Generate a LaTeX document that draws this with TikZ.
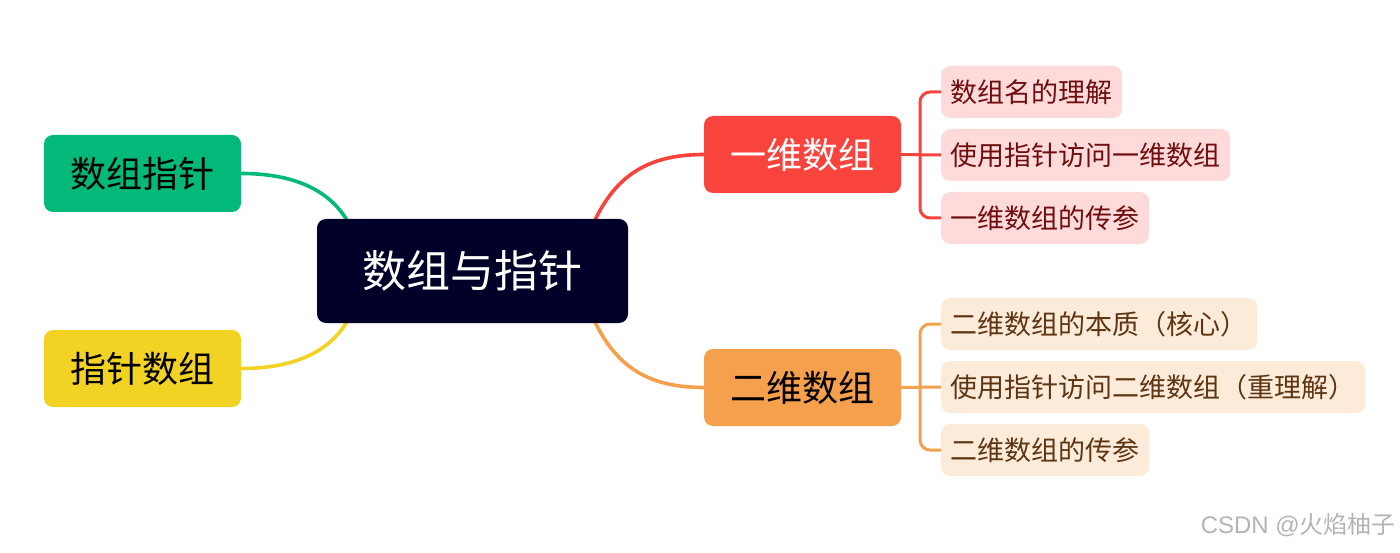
\documentclass[tikz,border=0pt]{standalone}
\usepackage{fontspec}
\usetikzlibrary{backgrounds}
\setmainfont{Noto Sans CJK SC}
\newfontfamily\latinwm{Liberation Sans}
\definecolor{cnavy}{HTML}{000028}
\definecolor{cgreen}{HTML}{02B97A}
\definecolor{cyellow}{HTML}{F2D323}
\definecolor{cred}{HTML}{F8443C}
\definecolor{corange}{HTML}{F5A04C}
\definecolor{credleaf}{HTML}{FFDADA}
\definecolor{credtext}{HTML}{6F0E0E}
\definecolor{coraleaf}{HTML}{FDEBDA}
\definecolor{coratext}{HTML}{5E3512}
\definecolor{cwm}{HTML}{B4B4B4}
\begin{document}
\begin{tikzpicture}[x=1pt,y=-1pt,
  rootbox/.style={rectangle,rounded corners=9pt,fill=cnavy,text=white,minimum width=311pt,minimum height=104pt,font=\fontsize{44}{50}\selectfont,inner sep=0pt},
  mainbox/.style={rectangle,rounded corners=9pt,minimum width=197pt,minimum height=77pt,font=\fontsize{36}{42}\selectfont,inner sep=0pt},
  leafbox/.style={rectangle,rounded corners=9pt,anchor=west,minimum height=52pt,inner xsep=9.5pt,inner ysep=0pt,font=\fontsize{27}{31}\selectfont},
  redleaf/.style={leafbox,fill=credleaf,text=credtext},
  oraleaf/.style={leafbox,fill=coraleaf,text=coratext},
  conn/.style={line width=3.6pt,line cap=round},
  bracket/.style={line width=3pt,rounded corners=10pt}
]
\useasboundingbox (0,0) rectangle (1400,553);
\node[rootbox] (root) at (472.5,271) {数组与指针};
\node[mainbox,fill=cgreen,text=black] (sz) at (142.5,173.5) {数组指针};
\node[mainbox,fill=cyellow,text=black] (zz) at (142.5,368.5) {指针数组};
\node[mainbox,fill=cred,text=white] (yw) at (802.5,154.5) {一维数组};
\node[mainbox,fill=corange,text=black] (ew) at (802.5,387.5) {二维数组};

\node[redleaf] (r1) at (941,92) {数组名的理解};
\node[redleaf] (r2) at (941,155) {使用指针访问一维数组};
\node[redleaf] (r3) at (941,218) {一维数组的传参};
\node[oraleaf] (o1) at (941,324) {二维数组的本质（核心）};
\node[oraleaf] (o2) at (941,387) {使用指针访问二维数组（重理解）};
\node[oraleaf] (o3) at (941,450) {二维数组的传参};

\coordinate (gA) at (348,222);
\coordinate (yA) at (348,320);
\coordinate (rA) at (594,222);
\coordinate (oA) at (594,320);
\coordinate (rB) at (920,155);
\coordinate (oB) at (920,387);
\begin{scope}[on background layer]
\draw[conn,cgreen] (sz.east) .. controls (300,173.5) and (332,194) .. (gA);
\draw[conn,cyellow] (zz.east) .. controls (300,368.5) and (332,348) .. (yA);
\draw[conn,cred] (rA) .. controls (615,178) and (645,154.5) .. (yw.west);
\draw[conn,corange] (oA) .. controls (615,364) and (645,387.5) .. (ew.west);
\draw[bracket,cred] (yw.east) -- (r2.west);
\draw[bracket,cred] (r1.west) -| (rB) |- (r3.west);
\draw[bracket,corange] (ew.east) -- (o2.west);
\draw[bracket,corange] (o1.west) -| (oB) |- (o3.west);
\end{scope}

\node[anchor=east,text=cwm,font=\fontsize{24}{28}\selectfont,inner sep=0pt] (wm) at (1396,525) {{\latinwm CSDN @}火焰柚子};
\end{tikzpicture}
\end{document}
